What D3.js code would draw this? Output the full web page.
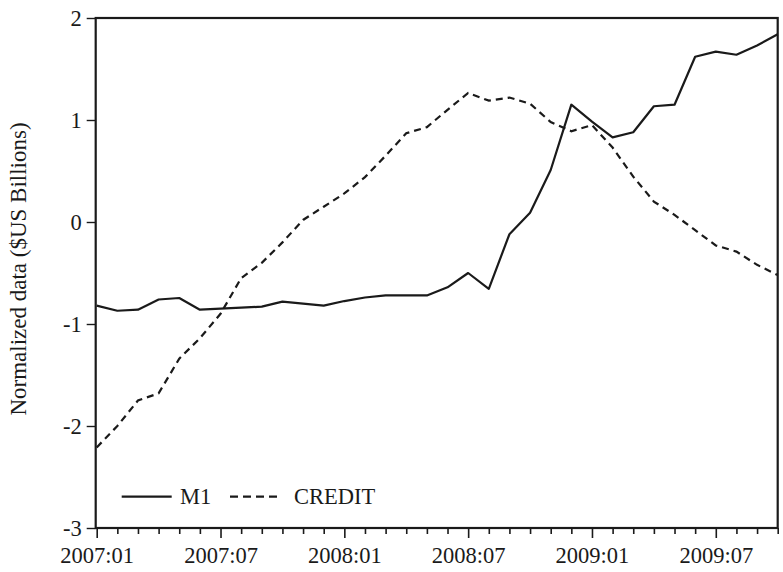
<!DOCTYPE html>
<html>
<head>
<meta charset="utf-8">
<script src="https://cdn.jsdelivr.net/npm/d3@7"></script>
<style>
  html, body { margin: 0; padding: 0; background: #fff; }
  svg { display: block; }
  text { font-family: "Liberation Serif", "Times New Roman", serif; fill: #1a1a1a; }
</style>
</head>
<body>
<svg id="chart" width="783" height="572"></svg>
<script>
const months = [
  "2007:01","2007:02","2007:03","2007:04","2007:05","2007:06","2007:07","2007:08","2007:09","2007:10","2007:11","2007:12",
  "2008:01","2008:02","2008:03","2008:04","2008:05","2008:06","2008:07","2008:08","2008:09","2008:10","2008:11","2008:12",
  "2009:01","2009:02","2009:03","2009:04","2009:05","2009:06","2009:07","2009:08","2009:09","2009:10"
];
const tickLabels = ["2007:01","2007:07","2008:01","2008:07","2009:01","2009:07"];
const yTicks = [-3, -2, -1, 0, 1, 2];

const m1 = [
  -0.82, -0.87, -0.86, -0.76, -0.745, -0.86, -0.85, -0.84, -0.83, -0.78, -0.80, -0.82,
  -0.775, -0.74, -0.72, -0.72, -0.72, -0.64, -0.50, -0.655, -0.12, 0.09, 0.51, 1.15,
  0.985, 0.83, 0.88, 1.135, 1.15, 1.62, 1.67, 1.64, 1.73, 1.84
];
const credit = [
  -2.21, -2.00, -1.75, -1.68, -1.34, -1.14, -0.90, -0.55, -0.40, -0.20, 0.02, 0.15,
  0.28, 0.44, 0.65, 0.87, 0.93, 1.10, 1.265, 1.19, 1.22, 1.16, 0.98, 0.89,
  0.95, 0.73, 0.445, 0.20, 0.07, -0.08, -0.23, -0.29, -0.42, -0.52
];
const seriesNames = ["M1", "CREDIT"];

const svg = d3.select("#chart");
const pLeft = 95.7, pRight = 777.7, pTop = 18, pBottom = 528;

const x = d3.scalePoint().domain(months).range([pLeft + 1, pRight]);
const y = d3.scaleLinear().domain([-3, 2]).range([pBottom, pTop]);

const ink = "#1a1a1a";

// x axis (monthly ticks, longer at labelled months)
const xAxis = svg.append("g").attr("transform", `translate(0,${pBottom})`)
  .call(d3.axisBottom(x).tickValues(months).tickSizeOuter(0)
    .tickFormat(d => tickLabels.includes(d) ? d : ""));
xAxis.select(".domain").remove();
xAxis.selectAll(".tick line")
  .attr("stroke", ink).attr("stroke-width", 1.6)
  .attr("y2", d => tickLabels.includes(d) ? 10 : 6);
xAxis.selectAll(".tick text")
  .attr("y", 35).attr("dy", null)
  .style("font-size", "22.5px").attr("fill", ink);

// y axis
const yAxis = svg.append("g").attr("transform", `translate(${pLeft},0)`)
  .call(d3.axisLeft(y).tickValues(yTicks).tickSize(9).tickPadding(5).tickSizeOuter(0)
    .tickFormat(d => String(d)));
yAxis.select(".domain").remove();
yAxis.selectAll(".tick line").attr("stroke", ink).attr("stroke-width", 1.4);
yAxis.selectAll(".tick text").style("font-size", "22.5px").attr("fill", ink);

// frame
svg.append("rect")
  .attr("x", pLeft).attr("y", pTop)
  .attr("width", pRight - pLeft).attr("height", pBottom - pTop)
  .attr("fill", "none").attr("stroke", ink).attr("stroke-width", 2.2);

// y title
svg.append("text")
  .attr("transform", `translate(26,${(pTop + pBottom) / 2 - 4}) rotate(-90)`)
  .attr("text-anchor", "middle")
  .style("font-size", "23px")
  .text("Normalized data ($US Billions)");

// lines
const line = d3.line().x((d, i) => x(months[i])).y(d => y(d));
svg.append("path").datum(m1)
  .attr("d", line).attr("fill", "none")
  .attr("stroke", ink).attr("stroke-width", 2.2).attr("stroke-linejoin", "round");
svg.append("path").datum(credit)
  .attr("d", line).attr("fill", "none")
  .attr("stroke", ink).attr("stroke-width", 2.2).attr("stroke-dasharray", "7,5");

// legend
const lg = svg.append("g");
const ly = 496.7;
lg.append("line").attr("x1", 121.7).attr("x2", 171.7).attr("y1", ly).attr("y2", ly)
  .attr("stroke", ink).attr("stroke-width", 2.2);
lg.append("text").attr("x", 180).attr("y", ly + 7.5).style("font-size", "22.5px").text(seriesNames[0]);
lg.append("line").attr("x1", 230).attr("x2", 282).attr("y1", ly).attr("y2", ly)
  .attr("stroke", ink).attr("stroke-width", 2.2).attr("stroke-dasharray", "8,5");
lg.append("text").attr("x", 294).attr("y", ly + 7.5).style("font-size", "22.5px").text(seriesNames[1]);
</script>
</body>
</html>
